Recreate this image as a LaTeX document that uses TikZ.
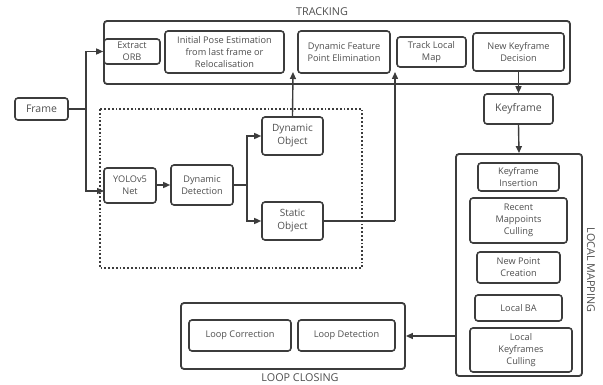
\documentclass[tikz,border=0pt]{standalone}
\usepackage{fontspec}
\setmainfont{Open Sans}
\usetikzlibrary{arrows.meta}
\definecolor{ln}{HTML}{3C3C3C}
\definecolor{tx}{HTML}{4E4E4E}
\tikzset{
  box/.style={draw=ln, line width=1.6pt, rounded corners=3pt, inner sep=0pt, align=center,
    text=tx, font=\fontsize{9.2}{12.2}\selectfont},
  outer/.style={draw=ln, line width=1.8pt, rounded corners=3pt, inner sep=0pt},
  lbl/.style={text=tx, font=\fontsize{10.8}{12}\selectfont, inner sep=0pt},
  conn/.style={draw=ln, line width=1.4pt},
  arr/.style={conn, -{Triangle[length=7pt,width=6pt]}},
}
\begin{document}
\begin{tikzpicture}[x=1pt,y=-1pt]
\useasboundingbox (0,0) rectangle (603,385);
% outer boxes
\node[outer, minimum width=466, minimum height=63] (tracking) at (337,52.5) {};
\node[outer, minimum width=126, minimum height=222] (localmap) at (519,265) {};
\node[outer, minimum width=224, minimum height=66] (loopclosing) at (293,336) {};
\draw[ln, line width=1.8pt, dotted] (100,109) rectangle (362,268);
% labels
\node[lbl] (ltrack) at (322,12) {TRACKING};
\node[lbl, rotate=-90] (lmap) at (591,270) {LOCAL MAPPING};
\node[lbl] (lloop) at (300,377.5) {LOOP CLOSING};
% tracking
\node[box, minimum width=56, minimum height=25] (extract) at (132,51.5) {Extract\\ORB};
\node[box, minimum width=119, minimum height=42] (initpose) at (224.5,52) {Initial Pose Estimation\\from last frame or\\Relocalisation};
\node[box, minimum width=92, minimum height=42] (dynfeat) at (344,52) {Dynamic Feature\\Point Elimination};
\node[box, minimum width=69, minimum height=30] (tracklocal) at (431.5,52) {Track Local\\Map};
\node[box, minimum width=91, minimum height=38] (newkf) at (518.5,52) {New Keyframe\\Decision};
\node[box, minimum width=69, minimum height=30, font=\fontsize{10.5}{12}\selectfont] (keyframe) at (518.5,109) {Keyframe};
\node[box, minimum width=53, minimum height=22, font=\fontsize{10.5}{12}\selectfont] (frame) at (41.5,109) {Frame};
% detection
\node[box, minimum width=52, minimum height=35] (yolo) at (130,185.5) {YOLOv5\\Net};
\node[box, minimum width=62, minimum height=40] (dyndet) at (202,185) {Dynamic\\Detection};
\node[box, minimum width=61, minimum height=38, font=\fontsize{10}{13}\selectfont] (dynobj) at (292.5,136) {Dynamic\\Object};
\node[box, minimum width=61, minimum height=38, font=\fontsize{10}{13}\selectfont] (statobj) at (292.5,221) {Static\\Object};
% local mapping
\node[box, minimum width=81, minimum height=28] (kfins) at (518.5,177) {Keyframe\\Insertion};
\node[box, minimum width=97, minimum height=45] (recent) at (518.5,220.5) {Recent\\Mappoints\\Culling};
\node[box, minimum width=83, minimum height=31] (newpoint) at (518.5,267.5) {New Point\\Creation};
\node[box, minimum width=87, minimum height=26] (localba) at (518.5,308) {Local BA};
\node[box, minimum width=102, minimum height=44] (lkc) at (521,350) {Local\\Keyframes\\Culling};
% loop closing
\node[box, minimum width=102, minimum height=31] (loopcorr) at (240,335.5) {Loop Correction};
\node[box, minimum width=97, minimum height=31] (loopdet) at (346.5,335.5) {Loop Detection};
% coordinates
\coordinate (split) at (86,109);
\coordinate (yoloin) at (104,191);
\coordinate (branch) at (247,185);
\coordinate (up1) at (293,72);
\coordinate (turn2) at (395,221);
\coordinate (up2) at (395,72);
\coordinate (lmout) at (456,336);
% connectors
\draw[conn] (frame.east) -- (split);
\draw[arr] (split) |- (extract.west);
\draw[arr] (split) |- (yoloin);
\draw[arr] (yolo.east |- dyndet.west) -- (dyndet.west);
\draw[conn] (dyndet.east) -- (branch);
\draw[arr] (branch) |- (dynobj.west);
\draw[arr] (branch) |- (statobj.west);
\draw[arr] (dynobj.north) -- (up1);
\draw[conn] (statobj.east) -- (turn2);
\draw[arr] (turn2) -- (up2);
\draw[arr] (newkf.south) -- (keyframe.north);
\draw[arr] (keyframe.south) -- (localmap.north);
\draw[arr] (lmout) -- (loopclosing.east |- lmout);
\end{tikzpicture}
\end{document}
